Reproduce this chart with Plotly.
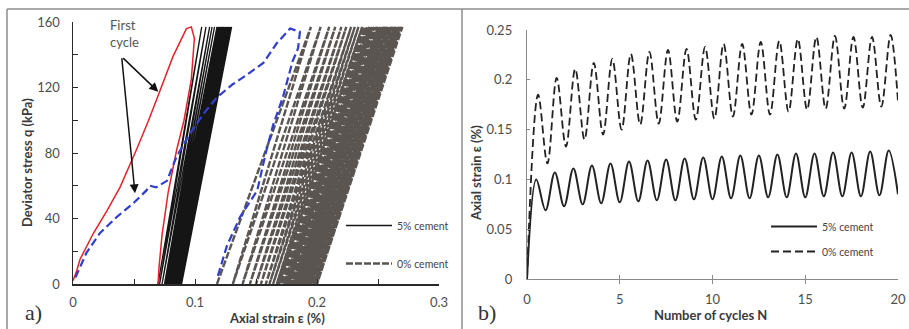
import plotly.graph_objects as go

# ---------------- Panel a) data ----------------
# first cycle, 5% cement (red)
red_load_eps = [0.0, 0.003, 0.0057, 0.0167, 0.028, 0.0385, 0.052, 0.062, 0.0713, 0.082, 0.093, 0.097]
red_load_q = [2, 8, 15, 31, 45, 59, 82, 100, 118, 139, 156, 157]
red_unload_eps = [0.097, 0.0995, 0.097, 0.091, 0.085, 0.078, 0.073, 0.0705, 0.0697]
red_unload_q = [157, 150, 125, 100, 82, 56, 30, 10, 0]

# first cycle, 0% cement (blue)
blue_load_eps = [0.002, 0.011, 0.022, 0.036, 0.049, 0.060, 0.063, 0.068, 0.077, 0.085, 0.096,
                 0.107, 0.118, 0.131, 0.143, 0.156, 0.167, 0.178]
blue_load_q = [4, 19, 31, 41, 49, 57, 60, 59, 63, 78, 92, 104, 114, 122, 128, 135, 147, 156]
blue_unload_eps = [0.178, 0.186, 0.1845, 0.180, 0.172, 0.164, 0.158, 0.151, 0.145, 0.137, 0.126, 0.118]
blue_unload_q = [156, 154, 144, 136, 114, 97, 80, 57, 50, 41, 23, 3]

# subsequent cycles: strain at q = 0 (trough) and at q = q_max (peak)
q_max = 157
cem5_trough = [0.0697, 0.071, 0.073, 0.075, 0.076, 0.077, 0.078, 0.079, 0.080, 0.081,
               0.082, 0.083, 0.084, 0.085, 0.086, 0.087, 0.088, 0.089]
cem5_peak = [0.1055, 0.109, 0.112, 0.114, 0.116, 0.118, 0.119, 0.120, 0.121, 0.122,
             0.123, 0.124, 0.125, 0.126, 0.127, 0.128, 0.129, 0.130]
cem0_trough = [0.118, 0.131, 0.139, 0.145, 0.150, 0.154, 0.158, 0.161, 0.164, 0.167, 0.169,
               0.171, 0.173, 0.175, 0.177, 0.179, 0.180, 0.182, 0.183, 0.184, 0.185, 0.186,
               0.187, 0.188, 0.189, 0.190, 0.191, 0.192, 0.193, 0.194, 0.195, 0.196, 0.197,
               0.198, 0.199, 0.200]
cem0_peak = [0.195, 0.203, 0.210, 0.215, 0.220, 0.224, 0.228, 0.231, 0.234, 0.237, 0.239,
             0.241, 0.243, 0.245, 0.247, 0.249, 0.250, 0.252, 0.253, 0.254, 0.255, 0.256,
             0.257, 0.258, 0.259, 0.260, 0.261, 0.262, 0.263, 0.264, 0.265, 0.266, 0.267,
             0.268, 0.269, 0.270]

a_xtickvals = [0, 0.05, 0.1, 0.15, 0.2, 0.25, 0.3]
a_xticktext = ["0", "", "0.1", "", "0.2", "", "0.3"]
a_ytickvals = [0, 20, 40, 60, 80, 100, 120, 140, 160]
a_yticktext = ["0", "", "40", "", "80", "", "120", "", "160"]

# ---------------- Panel b) data ----------------
n_5 = [0, 0.5, 1, 1.5, 2, 2.5, 3, 3.5, 4, 4.5, 5, 5.5, 6, 6.5, 7, 7.5, 8, 8.5, 9, 9.5, 10,
       10.5, 11, 11.5, 12, 12.5, 13, 13.5, 14, 14.5, 15, 15.5, 16, 16.5, 17, 17.5, 18, 18.5,
       19, 19.5, 20]
strain_5 = [0, 0.100, 0.069, 0.107, 0.073, 0.111, 0.075, 0.114, 0.076, 0.116, 0.077, 0.118,
            0.078, 0.119, 0.079, 0.120, 0.079, 0.121, 0.080, 0.122, 0.080, 0.123, 0.081,
            0.124, 0.081, 0.124, 0.082, 0.125, 0.082, 0.126, 0.082, 0.126, 0.083, 0.127,
            0.083, 0.127, 0.083, 0.128, 0.084, 0.129, 0.085]
n_0 = [0, 0.6, 1.1, 1.6, 2.1, 2.6, 3.1, 3.6, 4.1, 4.6, 5.1, 5.6, 6.1, 6.6, 7.1, 7.6, 8.1, 8.6,
       9.1, 9.6, 10.1, 10.6, 11.1, 11.6, 12.1, 12.6, 13.1, 13.6, 14.1, 14.6, 15.1, 15.6, 16.1,
       16.6, 17.1, 17.6, 18.1, 18.6, 19.1, 19.6, 20]
strain_0 = [0, 0.185, 0.116, 0.202, 0.133, 0.211, 0.140, 0.217, 0.145, 0.221, 0.150, 0.226,
            0.155, 0.228, 0.156, 0.230, 0.158, 0.231, 0.160, 0.233, 0.161, 0.236, 0.163,
            0.236, 0.165, 0.238, 0.165, 0.239, 0.168, 0.241, 0.170, 0.243, 0.171, 0.244,
            0.171, 0.243, 0.172, 0.243, 0.173, 0.245, 0.178]

b_xtickvals = [0, 5, 10, 15, 20]
b_ytickvals = [0, 0.05, 0.1, 0.15, 0.2, 0.25]
b_yticktext = ["0", "0.05", "0.1", "0.15", "0.2", "0.25"]


def loops(troughs, peaks, qpk):
    xs, ys = [], []
    for i in range(len(peaks)):
        xs += [troughs[i], peaks[i]]
        ys += [0, qpk]
        if i + 1 < len(troughs):
            xs.append(troughs[i + 1])
            ys.append(0)
    return xs, ys


W, H = 909, 329
def px(x): return x / W
def py(y): return 1 - y / H

FONT = "Lato"
TXT = "#3a3a3a"
TICK = "#4d4d4d"

fig = go.Figure()

gx, gy = loops(cem0_trough, cem0_peak, q_max)
fig.add_trace(go.Scatter(x=gx, y=gy, mode="lines", name="0% cement",
                         line=dict(color="#5b5551", width=2.4, dash="7px,2px"),
                         legend="legend", legendgroup="a0", legendrank=2,
                         xaxis="x", yaxis="y", hoverinfo="skip"))
bx, by = loops(cem5_trough, cem5_peak, q_max)
fig.add_trace(go.Scatter(x=bx, y=by, mode="lines", name="5% cement",
                         line=dict(color="#151515", width=1.3),
                         legend="legend", legendgroup="a5", legendrank=1,
                         xaxis="x", yaxis="y", hoverinfo="skip"))
fig.add_trace(go.Scatter(x=red_load_eps + red_unload_eps, y=red_load_q + red_unload_q,
                         mode="lines", line=dict(color="#e3222b", width=1.5),
                         showlegend=False, xaxis="x", yaxis="y", hoverinfo="skip"))
fig.add_trace(go.Scatter(x=blue_load_eps + blue_unload_eps, y=blue_load_q + blue_unload_q,
                         mode="lines", line=dict(color="#2f3fcc", width=2.2, dash="8px,4px"),
                         showlegend=False, xaxis="x", yaxis="y", hoverinfo="skip"))

fig.add_trace(go.Scatter(x=n_5, y=strain_5, mode="lines", name="5% cement",
                         line=dict(color="#222222", width=2, shape="spline", smoothing=1.0),
                         legend="legend2", legendgroup="b5", legendrank=1,
                         xaxis="x2", yaxis="y2", hoverinfo="skip"))
fig.add_trace(go.Scatter(x=n_0, y=strain_0, mode="lines", name="0% cement",
                         line=dict(color="#222222", width=1.8, dash="8px,4px",
                                   shape="spline", smoothing=1.0),
                         legend="legend2", legendgroup="b0", legendrank=2,
                         xaxis="x2", yaxis="y2", hoverinfo="skip"))

axis_common = dict(showgrid=False, zeroline=False, showline=True, ticks="inside",
                   automargin=False,
                   tickfont=dict(family=FONT, size=13, color=TICK), fixedrange=True)

fig.update_layout(
    width=W, height=H,
    margin=dict(l=0, r=0, t=0, b=0, autoexpand=False),
    paper_bgcolor="white", plot_bgcolor="white",
    font=dict(family=FONT, color=TXT),
    xaxis=dict(domain=[px(73), px(439)], range=[0, 0.3], anchor="y",
               tickmode="array", tickvals=a_xtickvals, ticktext=a_xticktext,
               linecolor="#2a2a2a", linewidth=1.5, tickcolor="#2a2a2a", ticklen=5,
               ticklabelstandoff=6, **axis_common),
    yaxis=dict(domain=[py(284), py(22)], range=[0, 160], anchor="x",
               tickmode="array", tickvals=a_ytickvals, ticktext=a_yticktext,
               linecolor="#2a2a2a", linewidth=1.5, tickcolor="#2a2a2a", ticklen=5,
               ticklabelstandoff=9, **axis_common),
    xaxis2=dict(domain=[px(527), px(898)], range=[0, 20], anchor="y2",
                tickmode="array", tickvals=b_xtickvals,
                linecolor="#8a8a8a", linewidth=1.2, tickcolor="#8a8a8a", ticklen=4,
                ticklabelstandoff=8,
                minor=dict(ticks="outside", ticklen=4, tickcolor="#8a8a8a",
                           tick0=0.001, dtick=5),
                **axis_common),
    yaxis2=dict(domain=[py(279), py(30)], range=[0, 0.25], anchor="x2",
                tickmode="array", tickvals=b_ytickvals, ticktext=b_yticktext,
                linecolor="#8a8a8a", linewidth=1.2, tickcolor="#8a8a8a", ticklen=3,
                ticklabelstandoff=11, **axis_common),
    legend=dict(x=px(341), y=py(211), xanchor="left", yanchor="top", itemwidth=46,
                font=dict(family=FONT, size=10.5, color="#444"),
                bgcolor="rgba(0,0,0,0)", tracegroupgap=19, traceorder="grouped"),
    legend2=dict(x=px(766), y=py(212), xanchor="left", yanchor="top", itemwidth=46,
                 font=dict(family=FONT, size=10.5, color="#444"),
                 bgcolor="rgba(0,0,0,0)", tracegroupgap=6, traceorder="grouped"),
    shapes=[
        dict(type="line", xref="paper", yref="paper", x0=px(7), x1=1, y0=py(9), y1=py(9),
             line=dict(color="#8c8c8c", width=1.5)),
        dict(type="line", xref="paper", yref="paper", x0=px(7), x1=px(7), y0=0, y1=py(9),
             line=dict(color="#8c8c8c", width=1.5)),
        dict(type="line", xref="paper", yref="paper", x0=px(462), x1=px(462), y0=0, y1=py(9),
             line=dict(color="#8c8c8c", width=1.5)),
    ],
)

def paper_text(text, x, y, size=13, family=FONT, color=TXT, angle=0):
    return dict(text=text, xref="paper", yref="paper", x=px(x), y=py(y),
                xanchor="center", yanchor="middle", showarrow=False, textangle=angle,
                font=dict(family=family, size=size, color=color))

ann = [
    paper_text("<b>Axial strain ε (%)</b>", 277, 318),
    paper_text("<b>Number of cycles N</b>", 710, 315),
    paper_text("<b>Deviator stress q (kPa)</b>", 27, 163, angle=-90),
    paper_text("<b>Axial strain ε (%)</b>", 476, 173, angle=-90),
    paper_text("a)", 33, 312, size=22, family="Liberation Serif", color="#333"),
    paper_text("b)", 487, 312, size=22, family="Liberation Serif", color="#333"),
]
ann.append(dict(text="First<br>cycle", xref="x", yref="y", x=0.0287, y=153,
                xanchor="left", yanchor="middle", align="left", showarrow=False,
                font=dict(family=FONT, size=13, color="#555")))
for hx, hy in [(0.0699, 117.4), (0.0508, 55.4)]:
    ann.append(dict(text="", xref="x", yref="y", x=hx, y=hy, axref="x", ayref="y",
                    ax=0.0399, ay=138.8, showarrow=True, arrowhead=2, arrowsize=1.2,
                    arrowwidth=1.5, arrowcolor="#111"))
fig.update_layout(annotations=ann)

fig.write_html("out.html", config={"displayModeBar": False, "staticPlot": True},
               post_script="document.body.style.margin='0';"
                           "document.body.style.overflow='hidden';")
